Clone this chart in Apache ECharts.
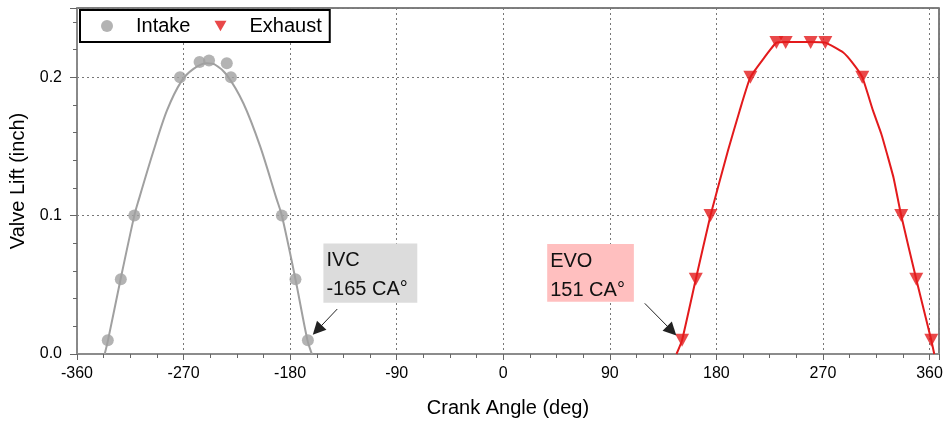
<!DOCTYPE html>
<html>
<head>
<meta charset="utf-8">
<script src="https://cdn.jsdelivr.net/npm/echarts@6/dist/echarts.min.js"></script>
<style>
  html, body { margin: 0; padding: 0; background: #fff; }
  #chart { width: 947px; height: 426px; }
</style>
</head>
<body>
<div id="chart"></div>
<script>
// Measured intake valve lift points (crank angle in degrees, lift in inches)
const intakeAngle = [-334, -323, -311.6, -273, -256.5, -248.5, -233.5, -230, -187, -175.5, -165];
const intakeLift  = [0.01, 0.054, 0.1, 0.2, 0.211, 0.212, 0.21, 0.2, 0.1, 0.054, 0.01];

// Fitted intake lift curve
const intakeCurveAngle = [-336.6, -333.8, -323.2, -311.6, -308, -295.3, -284, -271.9, -261.6, -250.5, -243.3, -233.4, -219.4, -205.3, -191.8, -187, -175.5, -165.4, -161.7];
const intakeCurveLift  = [0, 0.01, 0.054, 0.1, 0.111, 0.147, 0.176, 0.197, 0.206, 0.21, 0.209, 0.2015, 0.181, 0.15, 0.113, 0.1, 0.054, 0.01, 0];

// Measured exhaust valve lift points
const exhaustAngle = [151, 162.6, 175, 208.7, 230.7, 238.5, 259.6, 272, 303.2, 336.1, 348.8, 361.5];
const exhaustLift  = [0.01, 0.054, 0.1, 0.2, 0.225, 0.225, 0.225, 0.225, 0.2, 0.1, 0.054, 0.01];

// Exhaust lift profile
const exhaustCurveAngle = [146.3, 151, 162.6, 175, 189.8, 199.7, 208.7, 219.4, 230.7, 238.5, 259.6, 272, 286.9, 295.3, 303.2, 312.2, 319.3, 324.8, 329.7, 336.1, 348.8, 361.5, 364];
const exhaustCurveLift  = [0, 0.01, 0.054, 0.1, 0.147, 0.176, 0.2, 0.213, 0.225, 0.2255, 0.2255, 0.225, 0.218, 0.21, 0.2, 0.176, 0.159, 0.1425, 0.127, 0.1, 0.054, 0.01, 0];

// Axis settings
const xTickStep = 90;
const yTickStep = 0.1;

// Callout boxes [x1, y1, x2, y2] and arrows [fromX, fromY, toX, toY] in data units
const ivcBox   = [-151.9, 0.0799, -72.6, 0.037];
const ivcArrow = [-140.2, 0.0325, -157.1, 0.0173];
const evoBox   = [37.1, 0.0794, 110.3, 0.0378];
const evoArrow = [119.5, 0.0366, 142.3, 0.0168];

const FONT = '"Liberation Sans", Arial, sans-serif';
const GRAY = '#a0a0a0';
const RED = '#e31a1c';
const DOWN_TRIANGLE = 'path://M0,0 L14,0 L7,12 Z';

const zip = (a, b) => a.map((v, i) => [v, b[i]]);

// Event angles taken from the closing/opening points of each series
const ivcAngle = intakeAngle[intakeAngle.length - 1];
const evoAngle = exhaustAngle[0];

function callout(box, arrow, title, angle, fill) {
  return {
    markArea: {
      silent: true,
      itemStyle: { color: fill, borderWidth: 0 },
      label: {
        show: true,
        position: 'insideTopLeft',
        distance: 3,
        color: '#111',
        fontFamily: FONT,
        fontSize: 20,
        lineHeight: 29,
        formatter: title + '\n' + angle + ' CA\u00b0'
      },
      data: [[{ coord: [box[0], box[1]] }, { coord: [box[2], box[3]] }]]
    },
    markLine: {
      silent: true,
      symbol: ['none', 'triangle'],
      symbolSize: 13,
      label: { show: false },
      lineStyle: { color: '#222', width: 1, type: 'solid' },
      data: [[{ coord: [arrow[0], arrow[1]] }, { coord: [arrow[2], arrow[3]] }]]
    }
  };
}

const chart = echarts.init(document.getElementById('chart'), null, { renderer: 'canvas' });

chart.setOption({
  animation: false,
  backgroundColor: '#fff',
  textStyle: { fontFamily: FONT },
  grid: {
    left: 77, right: 8, top: 8, bottom: 72,
    show: true, borderColor: '#555', borderWidth: 1.5
  },
  legend: {
    left: 80, top: 10,
    padding: [6, 8, 6, 21],
    itemGap: 24,
    itemWidth: 12, itemHeight: 12,
    borderColor: '#000', borderWidth: 2,
    backgroundColor: '#fff',
    textStyle: { fontSize: 20, color: '#000', fontFamily: FONT, padding: [0, 0, 0, 18] },
    data: [
      { name: 'Intake', icon: 'circle' },
      { name: 'Exhaust', icon: DOWN_TRIANGLE }
    ]
  },
  xAxis: {
    type: 'value',
    min: -360, max: 368, interval: xTickStep,
    name: 'Crank Angle (deg)',
    nameLocation: 'middle', nameGap: 44,
    nameTextStyle: { fontSize: 20, color: '#000', fontFamily: FONT },
    axisLine: { onZero: false, lineStyle: { color: '#8c8c8c', width: 2 } },
    axisTick: { show: true, inside: false, length: 6, lineStyle: { color: '#666' } },
    minorTick: { show: true, splitNumber: 4, length: 4, lineStyle: { color: '#666' } },
    axisLabel: {
      fontSize: 16, color: '#000', margin: 12, fontFamily: FONT,
      formatter: v => (v % xTickStep === 0 ? String(v) : '')
    },
    splitLine: { show: true, lineStyle: { color: '#777', type: [2, 3], width: 1 } }
  },
  yAxis: {
    type: 'value',
    min: 0, max: 0.25, interval: yTickStep,
    name: 'Valve Lift (inch)',
    nameLocation: 'middle', nameGap: 46,
    nameTextStyle: { fontSize: 20, color: '#000', fontFamily: FONT },
    axisLine: { show: true, onZero: false, lineStyle: { color: '#8c8c8c', width: 1.5 } },
    axisTick: { show: true, inside: false, length: 7, lineStyle: { color: '#666' } },
    minorTick: { show: true, splitNumber: 5, length: 4, lineStyle: { color: '#666' } },
    axisLabel: {
      fontSize: 16, color: '#000', margin: 15, fontFamily: FONT,
      formatter: v => (Math.abs(v / yTickStep - Math.round(v / yTickStep)) < 1e-6 ? v.toFixed(1) : '')
    },
    splitLine: { show: true, lineStyle: { color: '#777', type: [2, 3], width: 1 } }
  },
  series: [
    {
      name: 'Intake fit',
      type: 'line',
      data: zip(intakeCurveAngle, intakeCurveLift),
      showSymbol: false,
      smooth: 0.3,
      lineStyle: { color: GRAY, width: 2 },
      z: 3
    },
    Object.assign({
      name: 'Intake',
      type: 'scatter',
      data: zip(intakeAngle, intakeLift),
      symbol: 'circle',
      symbolSize: 12,
      itemStyle: { color: GRAY },
      z: 4
    }, callout(ivcBox, ivcArrow, 'IVC', ivcAngle, '#dcdcdc')),
    {
      name: 'Exhaust profile',
      type: 'line',
      data: zip(exhaustCurveAngle, exhaustCurveLift),
      showSymbol: false,
      smooth: 0.15,
      lineStyle: { color: RED, width: 2 },
      z: 3
    },
    Object.assign({
      name: 'Exhaust',
      type: 'scatter',
      data: zip(exhaustAngle, exhaustLift),
      symbol: DOWN_TRIANGLE,
      symbolSize: [14, 13],
      itemStyle: { color: RED },
      z: 4
    }, callout(evoBox, evoArrow, 'EVO', evoAngle, '#ffbfbf'))
  ]
});
</script>
</body>
</html>
